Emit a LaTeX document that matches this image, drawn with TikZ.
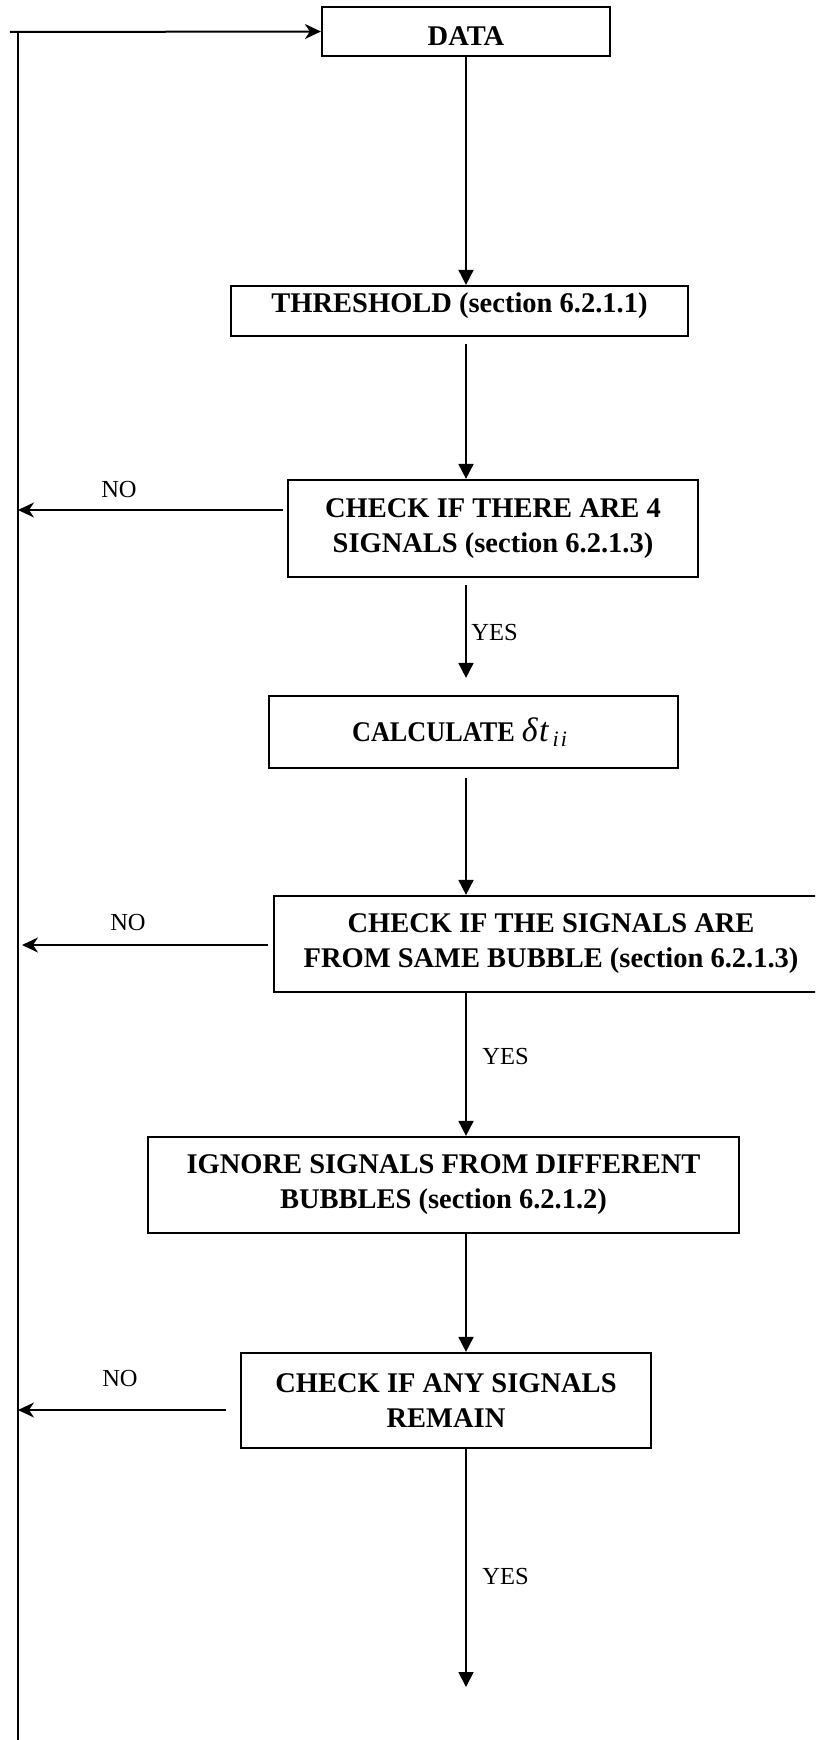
\documentclass[tikz,border=0pt]{standalone}
\usepackage{fontspec}
\usepackage{graphicx}
\setmainfont{Liberation Serif}
\usetikzlibrary{arrows.meta,calc}
\begin{document}
\begin{tikzpicture}[x=0.5pt,y=-0.5pt,
  box/.style={draw,line width=1.1pt,inner sep=0pt,align=center,
    font=\fontsize{14.25}{17.5}\selectfont\bfseries},
  varr/.style={line width=0.9pt,-{Triangle[length=7.5pt,width=7.5pt]}},
  harr/.style={line width=1pt,-{Stealth[length=8pt,width=7.5pt,inset=2.5pt]}},
  plain/.style={line width=1pt},
  lbl/.style={font=\fontsize{12.25}{14}\selectfont,inner sep=0pt}]
\useasboundingbox (0,0) rectangle (815,1740);
\begin{scope}
\clip (0,0) rectangle (815,1740);
% boxes
\node[box,minimum width=144pt,minimum height=24.5pt] (data) at (466,31.5) {\raisebox{-2.5pt}[\height][\depth]{DATA}};
\node[box,minimum width=228.5pt,minimum height=25pt] (thr) at (459.5,311) {\raisebox{2.5pt}[\height][\depth]{THRESHOLD (section 6.2.1.1)}};
\node[box,minimum width=205pt,minimum height=48.5pt] (chk4) at (493,528.5) {CHECK IF THERE ARE 4\\SIGNALS (section 6.2.1.3)};
\node[box,minimum width=204.5pt,minimum height=36pt] (calc) at (473.5,732) {\scalebox{0.92}[1]{CALCULATE}\hspace{3.5pt}{\mdseries\itshape\fontsize{17}{18}\selectfont δ\hspace{0.8pt}t}\hspace{2pt}\raisebox{-2.5pt}{\mdseries\itshape\fontsize{11}{12}\selectfont i\kern1pt i}\hspace{14pt}};
\node[box,minimum width=277pt,minimum height=48pt] (bub) at (551,944) {CHECK IF THE SIGNALS ARE\\FROM SAME BUBBLE (section 6.2.1.3)};
\node[box,minimum width=295.5pt,minimum height=48pt] (ign) at (443.5,1185) {IGNORE SIGNALS FROM DIFFERENT\\BUBBLES (section 6.2.1.2)};
\node[box,minimum width=205pt,minimum height=47.5pt] (any) at (446,1400.5) {CHECK IF ANY SIGNALS\\REMAIN};
% spine coordinates
\coordinate (sp) at (466,0);
\coordinate (L) at (18,0);
\coordinate (start) at (10,32);
\coordinate (ltop) at (18,32);
\coordinate (lbot) at (18,1745);
\coordinate (fin) at (466,1687);
% feedback line
\draw[plain] (ltop) -- (lbot);
\draw[harr] (start) -- (data.west);
% vertical flow
\draw[varr] (data.south -| sp) -- (thr.north -| sp);
\draw[varr,shorten <=3.5pt] (thr.south -| sp) -- (chk4.north -| sp);
\draw[varr,shorten <=3.5pt,shorten >=8.5pt] (chk4.south -| sp) -- (calc.north -| sp);
\draw[varr,shorten <=4.5pt] (calc.south -| sp) -- (bub.north -| sp);
\draw[varr] (bub.south -| sp) -- (ign.north -| sp);
\draw[varr] (ign.south -| sp) -- (any.north -| sp);
\draw[varr] (any.south -| sp) -- (fin);
% NO branches
\draw[harr] ([xshift=-2pt,yshift=9.25pt]chk4.west) coordinate (n1) -- (n1 -| L);
\draw[harr,shorten >=2pt] ([xshift=-2.5pt,yshift=-0.5pt]bub.west) coordinate (n2) -- (n2 -| L);
\draw[harr] ([xshift=-7pt,yshift=-4.75pt]any.west) coordinate (n3) -- (n3 -| L);
% labels
\node[lbl] (no1) at (119,490) {NO};
\node[lbl] (no2) at (128,922) {NO};
\node[lbl] (no3) at (120,1378) {NO};
\node[lbl,anchor=west] (yes1) at (471,633) {YES};
\node[lbl,anchor=west] (yes2) at (482,1056) {YES};
\node[lbl,anchor=west] (yes3) at (482,1576) {YES};
\end{scope}
\end{tikzpicture}
\end{document}
